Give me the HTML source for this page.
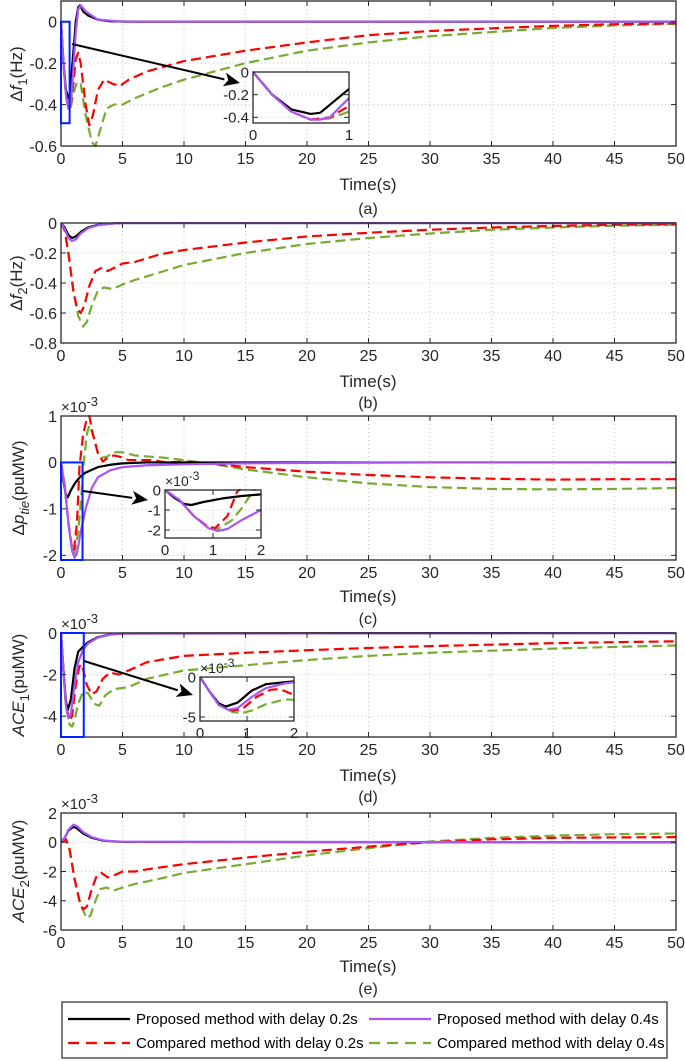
<!DOCTYPE html>
<html><head><meta charset="utf-8"><style>
html,body{margin:0;padding:0;background:#fff}
svg{display:block;font-family:"Liberation Sans",sans-serif}
</style></head><body>
<svg id="fig" width="685" height="1061" viewBox="0 0 685 1061" xmlns="http://www.w3.org/2000/svg"></svg>
<script>
// ---------- data (time s, value) ----------
const a_black=[[0,0],[0.2,-0.2],[0.4,-0.33],[0.6,-0.37],[0.7,-0.36],[1.0,-0.15],[1.2,0],[1.4,0.07],[1.55,0.08],[1.8,0.05],[2.2,0.03],[3,0.01],[4,0.002],[6,0],[50,0]];
const a_purple=[[0,0],[0.2,-0.2],[0.4,-0.35],[0.6,-0.42],[0.7,-0.42],[0.8,-0.4],[1.0,-0.23],[1.2,-0.05],[1.4,0.06],[1.6,0.08],[2,0.05],[3,0.01],[5,0],[50,0]];
const a_red=[[0,0],[0.2,-0.2],[0.4,-0.35],[0.6,-0.42],[0.8,-0.4],[1.0,-0.3],[1.2,-0.18],[1.4,-0.15],[1.6,-0.2],[2.0,-0.4],[2.3,-0.5],[2.6,-0.45],[3.0,-0.33],[3.5,-0.28],[4.2,-0.3],[4.8,-0.31],[5.5,-0.28],[7,-0.24],[10,-0.19],[15,-0.14],[20,-0.1],[25,-0.065],[30,-0.045],[35,-0.032],[40,-0.02],[45,-0.012],[50,-0.008]];
const a_green=[[0,0],[0.2,-0.2],[0.4,-0.35],[0.6,-0.42],[0.8,-0.41],[1.0,-0.35],[1.3,-0.29],[1.6,-0.3],[2.0,-0.45],[2.5,-0.58],[2.8,-0.6],[3.2,-0.52],[3.7,-0.42],[4.3,-0.4],[5,-0.4],[6,-0.37],[8,-0.32],[10,-0.28],[15,-0.2],[20,-0.14],[25,-0.1],[30,-0.07],[35,-0.05],[40,-0.03],[45,-0.018],[50,-0.01]];

const b_black=[[0,0],[0.3,-0.03],[0.6,-0.08],[0.9,-0.1],[1.2,-0.09],[1.6,-0.06],[2.2,-0.03],[3,-0.012],[4,-0.004],[5,0],[50,0]];
const b_purple=[[0,0],[0.3,-0.04],[0.6,-0.1],[0.9,-0.12],[1.2,-0.11],[1.6,-0.07],[2.2,-0.035],[3,-0.015],[4,-0.005],[5,0],[50,0]];
const b_red=[[0,0],[0.3,-0.05],[0.6,-0.2],[1.0,-0.45],[1.3,-0.57],[1.6,-0.6],[1.9,-0.55],[2.3,-0.42],[2.8,-0.32],[3.3,-0.3],[3.8,-0.32],[4.3,-0.3],[5,-0.27],[6,-0.26],[8,-0.21],[10,-0.18],[15,-0.13],[20,-0.09],[25,-0.065],[30,-0.045],[35,-0.03],[40,-0.02],[45,-0.012],[50,-0.008]];
const b_green=[[0,0],[0.3,-0.05],[0.6,-0.2],[1.0,-0.45],[1.4,-0.62],[1.8,-0.69],[2.1,-0.66],[2.5,-0.55],[3,-0.45],[3.5,-0.43],[4.2,-0.44],[5,-0.41],[6,-0.38],[8,-0.33],[10,-0.28],[15,-0.2],[20,-0.14],[25,-0.1],[30,-0.07],[35,-0.045],[40,-0.03],[45,-0.018],[50,-0.012]];

const c_black=[[0,0],[0.2,-0.4],[0.4,-0.7],[0.55,-0.75],[0.8,-0.6],[1.2,-0.42],[1.6,-0.3],[2,-0.22],[3,-0.1],[4,-0.05],[5,-0.02],[7,0],[50,0]];
const c_purple=[[0,0],[0.3,-0.5],[0.6,-1.3],[0.9,-1.9],[1.1,-2.05],[1.3,-1.95],[1.6,-1.5],[2,-1.0],[2.5,-0.55],[3,-0.32],[4,-0.17],[5,-0.1],[7,-0.06],[10,-0.04],[15,-0.02],[20,-0.01],[30,0],[50,0]];
const c_red=[[0,0],[0.3,-0.5],[0.6,-1.3],[0.9,-1.85],[1.05,-1.9],[1.3,-1.3],[1.5,-0.1],[1.8,0.6],[2.1,0.95],[2.3,1.0],[2.6,0.6],[3.0,0.2],[3.4,0.02],[3.8,0.1],[4.3,0.15],[4.8,0.12],[5.5,0.05],[6.5,0.05],[7.5,0.05],[8.5,0.0],[10,0.02],[12,-0.02],[15,-0.1],[20,-0.2],[25,-0.27],[30,-0.32],[35,-0.35],[40,-0.37],[45,-0.36],[50,-0.36]];
const c_green=[[0,0],[0.3,-0.5],[0.6,-1.3],[0.9,-1.85],[1.1,-1.95],[1.4,-1.5],[1.6,-0.9],[1.85,0],[2.1,0.6],[2.3,0.8],[2.6,0.6],[3.0,0.2],[3.3,0.1],[3.7,0.12],[4.3,0.22],[5,0.22],[6,0.15],[7,0.13],[8.5,0.1],[10,0.05],[12,-0.02],[15,-0.15],[20,-0.32],[25,-0.45],[30,-0.53],[35,-0.57],[40,-0.58],[45,-0.57],[50,-0.55]];

const d_black=[[0,0],[0.2,-1.8],[0.4,-3.3],[0.55,-3.7],[0.8,-3.2],[1.1,-1.7],[1.4,-0.9],[1.8,-0.65],[2.2,-0.45],[3,-0.2],[4,-0.07],[5,-0.02],[50,0]];
const d_purple=[[0,0],[0.2,-1.8],[0.4,-3.5],[0.6,-4.1],[0.8,-3.9],[1.1,-2.5],[1.4,-1.4],[1.8,-0.8],[2.2,-0.5],[3,-0.22],[4,-0.08],[5,-0.03],[50,0]];
const d_red=[[0,0],[0.2,-1.8],[0.4,-3.5],[0.7,-4.2],[0.9,-4.0],[1.2,-2.5],[1.5,-1.6],[1.7,-1.5],[2.1,-2.5],[2.5,-2.95],[2.9,-2.8],[3.4,-2.2],[4,-1.9],[4.7,-2.0],[5.5,-1.8],[7,-1.4],[10,-1.1],[15,-0.95],[20,-0.83],[25,-0.72],[30,-0.63],[35,-0.56],[40,-0.49],[45,-0.44],[50,-0.4]];
const d_green=[[0,0],[0.2,-1.8],[0.4,-3.5],[0.7,-4.4],[0.9,-4.5],[1.1,-4.2],[1.4,-3.4],[1.8,-2.8],[2.2,-2.9],[2.7,-3.4],[3.1,-3.5],[3.6,-3.0],[4.3,-2.7],[5.5,-2.6],[7,-2.2],[10,-1.8],[15,-1.55],[20,-1.3],[25,-1.1],[30,-0.95],[35,-0.85],[40,-0.75],[45,-0.67],[50,-0.6]];

const e_black=[[0,0],[0.3,0.3],[0.6,0.8],[1,1.05],[1.3,0.95],[1.8,0.6],[2.5,0.3],[3.5,0.1],[5,0.02],[50,0]];
const e_purple=[[0,0],[0.3,0.3],[0.6,0.85],[1,1.2],[1.3,1.1],[1.8,0.7],[2.5,0.35],[3.5,0.12],[5,0.03],[50,0]];
const e_red=[[0,0],[0.4,0.2],[0.7,-0.5],[1.1,-2.5],[1.5,-4.0],[1.8,-4.6],[2.1,-4.4],[2.5,-3.2],[2.9,-2.3],[3.3,-2.1],[3.8,-2.4],[4.5,-2.2],[5,-2.0],[6,-2.0],[7,-1.85],[10,-1.5],[15,-1.05],[20,-0.65],[25,-0.3],[30,0.0],[35,0.2],[40,0.3],[45,0.33],[50,0.35]];
const e_green=[[0,0],[0.4,0.2],[0.7,-0.5],[1.1,-2.5],[1.6,-4.3],[2.1,-5.2],[2.4,-5.0],[2.8,-4.0],[3.2,-3.2],[3.7,-3.1],[4.3,-3.3],[5,-3.1],[6,-2.85],[8,-2.5],[10,-2.1],[15,-1.5],[20,-0.9],[25,-0.4],[30,0.05],[35,0.3],[40,0.45],[45,0.55],[50,0.6]];

const xTicks=[0,5,10,15,20,25,30,35,40,45,50];
const a_yTicks=[0,-0.2,-0.4,-0.6];
const b_yTicks=[0,-0.2,-0.4,-0.6,-0.8];
const c_yTicks=[1,0,-1,-2];
const d_yTicks=[0,-2,-4];
const e_yTicks=[2,0,-2,-4,-6];
const panelCaptions=["(a)","(b)","(c)","(d)","(e)"];
const legendLabels=["Proposed method with delay 0.2s","Proposed method with delay 0.4s","Compared method with delay 0.2s","Compared method with delay 0.4s"];

const NS="http://www.w3.org/2000/svg";
const svg=document.getElementById('fig');
const STY={
 black:{c:"#000000",d:null},
 purple:{c:"#a855f7",d:null},
 red:{c:"#ff0000",d:"10,5"},
 green:{c:"#77ac30",d:"10,5"}
};
let clipId=0;
function mk(tag,attrs,parent){const e=document.createElementNS(NS,tag);for(const k in attrs)e.setAttribute(k,attrs[k]);(parent||svg).appendChild(e);return e;}
function fmt(v){return (Math.round(v*100)/100).toString();}

function axes(name,box,xlim,ylim,xt,yt,series,opt){
  const g=mk('g',{});
  
  
  const [x0,y0,x1,y1]=box;
  const X=t=>x0+(t-xlim[0])/(xlim[1]-xlim[0])*(x1-x0);
  const Y=v=>y0+(ylim[1]-v)/(ylim[1]-ylim[0])*(y1-y0);
  mk('rect',{x:x0,y:y0,width:x1-x0,height:y1-y0,fill:'#fff'},g);
  const fs=opt.fs||16;
  for(const t of xt){
    const l=mk('line',{x1:X(t),x2:X(t),y1:y0,y2:y1,stroke:'#c8c8c8','stroke-width':1,'stroke-dasharray':'1,3'},g);
    
    
  }
  for(const v of yt){
    const l=mk('line',{x1:x0,x2:x1,y1:Y(v),y2:Y(v),stroke:'#c8c8c8','stroke-width':1,'stroke-dasharray':'1,3'},g);
    
    
  }
  const cid='clip'+(clipId++);
  const cp=mk('clipPath',{id:cid},g);mk('rect',{x:x0,y:y0-1,width:x1-x0,height:y1-y0+2},cp);
  const sg=mk('g',{'clip-path':'url(#'+cid+')'},g);
  for(const [key,data] of series){
    const st=STY[key];
    const pts=data.map(p=>X(p[0]).toFixed(2)+','+Y(p[1]).toFixed(2)).join(' ');
    const pl=mk('polyline',{points:pts,fill:'none',stroke:st.c,'stroke-width':opt.lw||2.2,'stroke-linejoin':'round'},sg);
    if(st.d)pl.setAttribute('stroke-dasharray',st.d);
    
    
  }
  const bx=mk('rect',{x:x0,y:y0,width:x1-x0,height:y1-y0,fill:'none',stroke:'#262626','stroke-width':1.3},g);
  
  
  for(const t of xt){
    mk('line',{x1:X(t),x2:X(t),y1:y1,y2:y1-5,stroke:'#262626','stroke-width':1},g);
    mk('line',{x1:X(t),x2:X(t),y1:y0,y2:y0+5,stroke:'#262626','stroke-width':1},g);
    const tx=mk('text',{x:X(t),y:y1+fs+2,'font-size':fs,fill:'#262626','text-anchor':'middle'},g);
    tx.textContent=fmt(t);
    
    
  }
  for(const v of yt){
    mk('line',{x1:x0,x2:x0+5,y1:Y(v),y2:Y(v),stroke:'#262626','stroke-width':1},g);
    mk('line',{x1:x1,x2:x1-5,y1:Y(v),y2:Y(v),stroke:'#262626','stroke-width':1},g);
    const tx=mk('text',{x:x0-4,y:Y(v)+fs*0.36,'font-size':fs,fill:'#262626','text-anchor':'end'},g);
    tx.textContent=fmt(v);
    
    
  }
  if(opt.exp){
    const ex=mk('text',{x:x0,y:y0-4,'font-size':fs-1,fill:'#262626'},g);
    ex.innerHTML='×10<tspan dy="-6" font-size="'+(fs-3)+'">-3</tspan>';
    
    
  }
  return {X,Y};
}
function yLabel(name,x,yc,html){
  const t=mk('text',{x:0,y:0,'font-size':17,fill:'#262626','text-anchor':'middle',transform:'translate('+x+','+yc+') rotate(-90)'});
  t.innerHTML=html;
  
  
}
function txt(name,x,y,s,size,anchor){
  const t=mk('text',{x:x,y:y,'font-size':size,fill:'#262626','text-anchor':anchor||'middle'});
  t.textContent=s;
  
  
}
function zoomMark(name,ax,t0,t1,v0,v1,ax1,ay1,ax2,ay2){
  const r=mk('rect',{x:ax.X(t0),y:ax.Y(v1),width:ax.X(t1)-ax.X(t0),height:ax.Y(v0)-ax.Y(v1),fill:'none',stroke:'#0022ff','stroke-width':2});
  
  
  const ang=Math.atan2(ay2-ay1,ax2-ax1),L=16,W=7;
  const bx=ax2-L*Math.cos(ang),by=ay2-L*Math.sin(ang);
  const ln=mk('line',{x1:ax1,y1:ay1,x2:bx,y2:by,stroke:'#000','stroke-width':2});
  
  
  const p=[[ax2,ay2],[bx+W*Math.sin(ang),by-W*Math.cos(ang)],[bx+4*Math.cos(ang),by+4*Math.sin(ang)],[bx-W*Math.sin(ang),by+W*Math.cos(ang)]];
  const hd=mk('polygon',{points:p.map(q=>q.join(',')).join(' '),fill:'#000'});
  
  
}
const L=61,R=676,TX=368;
const ord=(b,p,r,g)=>[['green',g],['red',r],['black',b],['purple',p]];

const A=axes('panel-a-axes',[L,1,R,146],[0,50],[-0.6,0.1],xTicks,a_yTicks,ord(a_black,a_purple,a_red,a_green),{});
yLabel('panel-a-y-label',22,74,'Δ<tspan font-style="italic">f</tspan><tspan dy="5" font-size="13">1</tspan><tspan dy="-5">(Hz)</tspan>');
txt('panel-a-x-label',TX,190,'Time(s)',17);txt('panel-a-caption',TX,214,panelCaptions[0],16);
zoomMark('panel-a',A,0,0.7,-0.49,0,72,44,240,83);
axes('panel-a-inset',[253,72,349,123],[0,1],[-0.45,0],[0,1],[0,-0.2,-0.4],ord(a_black,a_purple,a_red,a_green),{fs:15});

axes('panel-b-axes',[L,223,R,343],[0,50],[-0.8,0],xTicks,b_yTicks,ord(b_black,b_purple,b_red,b_green),{});
yLabel('panel-b-y-label',22,283,'Δ<tspan font-style="italic">f</tspan><tspan dy="5" font-size="13">2</tspan><tspan dy="-5">(Hz)</tspan>');
txt('panel-b-x-label',TX,387,'Time(s)',17);txt('panel-b-caption',TX,408,panelCaptions[1],16);

const C=axes('panel-c-axes',[L,416,R,560],[0,50],[-2.1,1],xTicks,c_yTicks,ord(c_black,c_purple,c_red,c_green),{exp:true});
yLabel('panel-c-y-label',24,488,'Δ<tspan font-style="italic">p</tspan><tspan dy="5" font-size="13" font-style="italic">tie</tspan><tspan dy="-5">(puMW)</tspan>');
txt('panel-c-x-label',TX,602,'Time(s)',17);txt('panel-c-caption',TX,624,panelCaptions[2],16);
zoomMark('panel-c',C,0,1.75,-2.1,0,83,491,148,500);
axes('panel-c-inset',[165,490,261,538],[0,2],[-2.4,0],[0,1,2],[0,-1,-2],ord(c_black,c_purple,c_red,c_green),{fs:15,exp:true});

const D=axes('panel-d-axes',[L,633,R,737],[0,50],[-5,0],xTicks,d_yTicks,ord(d_black,d_purple,d_red,d_green),{exp:true});
yLabel('panel-d-y-label',24,685,'<tspan font-style="italic">ACE</tspan><tspan dy="5" font-size="13">1</tspan><tspan dy="-5">(puMW)</tspan>');
txt('panel-d-x-label',TX,781,'Time(s)',17);txt('panel-d-caption',TX,802,panelCaptions[3],16);
zoomMark('panel-d',D,0,1.85,-5,0,84,661,193,695);
axes('panel-d-inset',[200,677,294,721],[0,2],[-5.5,0],[0,1,2],[0,-5],ord(d_black,d_purple,d_red,d_green),{fs:15,exp:true});

axes('panel-e-axes',[L,813,R,930],[0,50],[-6,2],xTicks,e_yTicks,ord(e_black,e_purple,e_red,e_green),{exp:true});
yLabel('panel-e-y-label',24,871,'<tspan font-style="italic">ACE</tspan><tspan dy="5" font-size="13">2</tspan><tspan dy="-5">(puMW)</tspan>');
txt('panel-e-x-label',TX,972,'Time(s)',17);txt('panel-e-caption',TX,994,panelCaptions[4],16);

const lg=mk('g',{});


mk('rect',{x:62,y:1002,width:605,height:56,fill:'#fff',stroke:'#262626','stroke-width':1.2},lg);
const legKeys=['black','purple','red','green'];
const legPos=[[68,1019],[369,1019],[68,1043],[369,1043]];
for(let i=0;i<4;i++){
  const [lx,ly]=legPos[i],st=STY[legKeys[i]];
  const ln=mk('line',{x1:lx,x2:lx+62,y1:ly,y2:ly,stroke:st.c,'stroke-width':2.2},lg);
  if(st.d)ln.setAttribute('stroke-dasharray','11,7');
  
  
  const t=mk('text',{x:lx+68,y:ly+5,'font-size':15,fill:'#000'},lg);
  t.textContent=legendLabels[i];
  
  
}
</script>
</body></html>
